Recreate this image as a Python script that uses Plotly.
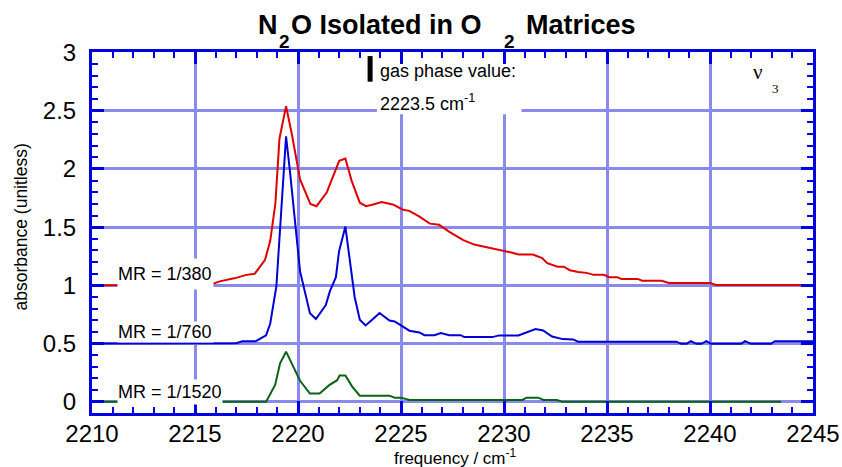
import plotly.graph_objects as go

# Absorbance spectra of the N2O nu3 band in O2 matrices, three matrix ratios
freq_380 = [2210.0, 2211.0, 2212.0, 2213.0, 2214.0, 2215.0, 2215.8, 2216.2, 2216.9, 2217.5,
            2217.9, 2218.4, 2218.65, 2218.9, 2219.1, 2219.42, 2219.7, 2220.1, 2220.6, 2220.9,
            2221.4, 2221.7, 2222.0, 2222.3, 2222.6, 2223.0, 2223.3, 2223.65, 2224.05, 2224.6,
            2225.1, 2225.4, 2225.9, 2226.4, 2226.85, 2227.35, 2228.0, 2228.55, 2229.1, 2229.75,
            2230.4, 2230.7, 2231.4, 2231.85, 2232.1, 2232.6, 2232.9, 2233.2, 2233.6, 2234.0,
            2234.35, 2234.85, 2235.1, 2235.5, 2235.7, 2236.5, 2236.7, 2237.65, 2238.0, 2240.0,
            2240.3, 2245.0]
abs_380 = [1.0, 1.0, 1.0, 1.0, 1.0, 1.0, 1.01, 1.034, 1.06, 1.09,
           1.10, 1.22, 1.38, 1.70, 2.26, 2.54, 2.30, 1.91, 1.70, 1.68,
           1.80, 1.93, 2.07, 2.09, 1.90, 1.71, 1.68, 1.695, 1.715, 1.695,
           1.65, 1.64, 1.59, 1.53, 1.52, 1.46, 1.39, 1.35, 1.33, 1.30,
           1.28, 1.265, 1.265, 1.235, 1.19, 1.16, 1.16, 1.13, 1.115, 1.107,
           1.09, 1.09, 1.07, 1.07, 1.055, 1.055, 1.04, 1.04, 1.02, 1.02,
           1.003, 1.003]

freq_760 = [2210.0, 2212.0, 2214.0, 2216.0, 2217.0, 2217.3, 2217.95, 2218.45, 2218.65, 2218.95,
            2219.13, 2219.42, 2219.61, 2219.86, 2220.1, 2220.58, 2220.87, 2221.35, 2221.55, 2221.84,
            2221.99, 2222.3, 2222.51, 2222.75, 2223.0, 2223.28, 2223.64, 2223.96, 2224.44, 2224.69,
            2225.41, 2225.89, 2226.14, 2226.62, 2226.94, 2227.34, 2227.9, 2228.07, 2229.44, 2229.76,
            2230.7, 2231.53, 2231.9, 2232.33, 2232.85, 2233.35, 2233.6, 2238.37, 2238.6, 2238.86,
            2239.07, 2239.34, 2239.58, 2239.82, 2240.06, 2241.51, 2241.7, 2241.99, 2242.96, 2243.15,
            2245.0]
abs_760 = [0.5, 0.5, 0.5, 0.5, 0.503, 0.52, 0.52, 0.57, 0.67, 0.99,
           1.49, 2.28, 1.98, 1.55, 1.12, 0.76, 0.71, 0.83, 0.95, 1.07,
           1.29, 1.505, 1.20, 0.90, 0.705, 0.655, 0.71, 0.762, 0.698, 0.69,
           0.61, 0.595, 0.572, 0.572, 0.59, 0.572, 0.572, 0.555, 0.555, 0.57,
           0.57, 0.625, 0.612, 0.56, 0.538, 0.535, 0.516, 0.516, 0.497, 0.497,
           0.52, 0.497, 0.497, 0.52, 0.497, 0.497, 0.52, 0.497, 0.497, 0.52,
           0.52]

freq_1520 = [2210.0, 2212.0, 2214.0, 2216.0, 2216.4, 2218.45, 2218.89, 2219.13, 2219.42, 2219.8,
             2220.1, 2220.58, 2221.05, 2221.5, 2221.9, 2222.02, 2222.3, 2222.63, 2223.0, 2224.44,
             2224.69, 2225.0, 2225.41, 2230.89, 2231.1, 2231.65, 2231.93, 2232.57, 2232.82, 2243.45]
abs_1520 = [0.0, 0.0, 0.0, 0.0, 0.0, 0.0, 0.144, 0.33, 0.43, 0.29,
            0.18, 0.07, 0.07, 0.14, 0.185, 0.225, 0.225, 0.13, 0.052, 0.052,
            0.035, 0.035, 0.015, 0.015, 0.035, 0.035, 0.015, 0.015, 0.0, 0.0]

series_labels = ["MR = 1/380", "MR = 1/760", "MR = 1/1520"]
x_ticks = [2210, 2215, 2220, 2225, 2230, 2235, 2240, 2245]
gas_phase_freq = 2223.5

RED = "#e00000"
BLUE = "#0000d4"
GREEN = "#0b6416"
AXIS_BLUE = "#0000e0"
GRID = "#8a8aec"
SANS = "Liberation Sans"
SERIF = "Liberation Serif"

W, H = 842, 467
L, R, T, B = 92, 29, 52, 54


def px_x(px):
    return (px - L) / (W - L - R)


def px_y(py):
    return (H - B - py) / (H - T - B)


fig = go.Figure()
for fx, ay, col in [(freq_380, abs_380, RED), (freq_760, abs_760, BLUE), (freq_1520, abs_1520, GREEN)]:
    fig.add_trace(go.Scatter(x=fx, y=ay, mode="lines", line=dict(color=col, width=2),
                             hoverinfo="skip", showlegend=False))

axis_style = dict(
    showline=True, linecolor=AXIS_BLUE, linewidth=3, mirror="allticks",
    ticks="inside", ticklen=12, tickwidth=3, tickcolor=AXIS_BLUE,
    showgrid=True, gridcolor=GRID, gridwidth=3, zeroline=False, automargin=False,
    tickfont=dict(family=SANS, size=24, color="black"),
)

fig.update_xaxes(range=[2210, 2245], tickvals=x_ticks, ticktext=[str(v) for v in x_ticks],
                 minor=dict(ticks="inside", ticklen=6, tickwidth=2, tickcolor=AXIS_BLUE,
                            dtick=1, tick0=2210, showgrid=False),
                 ticklabelstandoff=-3, **axis_style)
fig.update_yaxes(range=[-0.097, 3.005], tick0=0, dtick=0.5,
                 minor=dict(ticks="inside", ticklen=6, tickwidth=2, tickcolor=AXIS_BLUE,
                            dtick=0.1, tick0=0, showgrid=False),
                 ticklabelstandoff=8, **axis_style)

# gas-phase reference marker and the clear area behind its label
fig.add_shape(type="rect", xref="x", yref="y", x0=2223.83, x1=2230.85, y0=2.47, y1=2.95,
              fillcolor="white", line=dict(width=0), layer="between")
fig.add_shape(type="line", xref="x", yref="y", x0=gas_phase_freq, x1=gas_phase_freq,
              y0=2.75, y1=2.97, line=dict(color="black", width=5))

annotations = []


def text_at(text, x, y, size, family=SANS, xanchor="left", **kw):
    annotations.append(dict(text=text, x=px_x(x), y=px_y(y), xref="paper", yref="paper",
                            xanchor=xanchor, yanchor="middle", showarrow=False, borderpad=0,
                            font=dict(family=family, size=size, color="black"), **kw))


# title with lowered subscripts
text_at("<b>N</b>", 257, 25.5, 27)
text_at("<b>2</b>", 278, 41.5, 19)
text_at("<b>O Isolated in O</b>", 290, 25.5, 27)
text_at("<b>2</b>", 503, 41.5, 19)
text_at("<b>Matrices</b>", 525, 25.5, 27)

# axis titles
text_at("absorbance (unitless)", 20, 227.5, 17.5, xanchor="center", textangle=-90)
text_at("frequency / cm<sup>-1</sup>", 455, 456.5, 17, xanchor="center")

# band label
text_at("\u03bd", 757.5, 72, 21, family=SERIF, xanchor="center")
text_at("3", 775, 88.8, 13, family=SERIF, xanchor="center")

# gas-phase value text
text_at("gas phase value:", 379, 71.3, 18)
text_at("2223.5 cm<sup>-1</sup>", 379, 102.3, 18)

# matrix-ratio labels sitting on white boxes
label_boxes = [(series_labels[0], 1.101, 30), (series_labels[1], 0.601, 20), (series_labels[2], 0.083, 24)]
for txt, yv, hh in label_boxes:
    annotations.append(dict(text=txt, x=2211.2, y=yv, xref="x", yref="y", xanchor="left",
                            yanchor="middle", showarrow=False, bgcolor="white", borderpad=0,
                            width=len(txt) * 9.4 + 1, height=hh, align="left",
                            font=dict(family=SANS, size=18, color="black")))

fig.update_layout(
    width=W, height=H, margin=dict(l=L, r=R, t=T, b=B),
    paper_bgcolor="white", plot_bgcolor="white",
    annotations=annotations, showlegend=False,
)

fig.write_html("out.html")
